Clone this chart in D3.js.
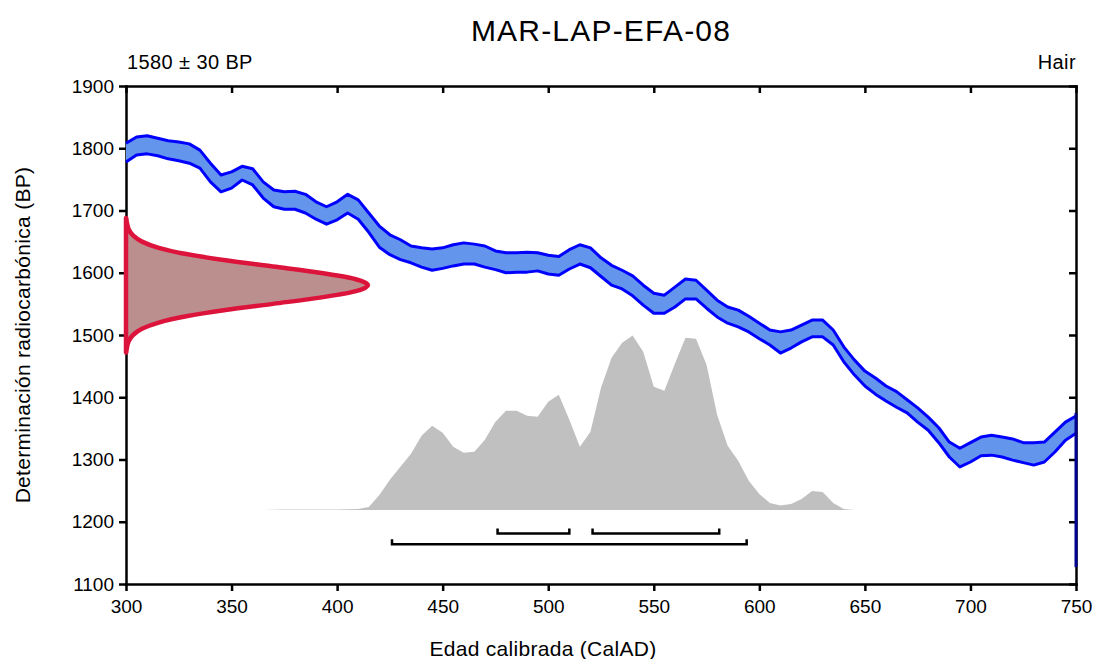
<!DOCTYPE html>
<html>
<head>
<meta charset="utf-8">
<script src="https://cdn.jsdelivr.net/npm/d3@7"></script>
<style>
  body { margin: 0; background: #fff; }
  svg text { font-family: "Liberation Sans", Arial, sans-serif; fill: #000; }
  .axis path, .axis line { stroke: #000; stroke-width: 2.5; }
  .axis text { font-size: 19px; }
</style>
</head>
<body>
<div id="chart"></div>
<script>
let w = 1095;
let h = 659;
let margin = { top: 86, right: 19, bottom: 75, left: 126 };

// calibration curve band (cal AD vs BP, upper / lower edge)
let calYears = [300, 305, 310, 315, 320, 325, 330, 335, 340, 345, 350, 355, 360, 365, 370, 375, 380, 385, 390, 395,
    400, 405, 410, 415, 420, 425, 430, 435, 440, 445, 450, 455, 460, 465, 470, 475, 480, 485, 490, 495,
    500, 505, 510, 515, 520, 525, 530, 535, 540, 545, 550, 555, 560, 565, 570, 575, 580, 585, 590, 595,
    600, 605, 610, 615, 620, 625, 630, 635, 640, 645, 650, 655, 660, 665, 670, 675, 680, 685, 690, 695,
    700, 705, 710, 715, 720, 725, 730, 735, 740, 745, 750];
let calUpper = [1808, 1818, 1820, 1816, 1812, 1810, 1807, 1797, 1776, 1757, 1762, 1771, 1767, 1746, 1733, 1730, 1731, 1726, 1714, 1706,
    1714, 1726, 1717, 1696, 1675, 1661, 1653, 1643, 1640, 1638, 1640, 1645, 1648, 1646, 1643, 1635, 1632, 1632, 1633, 1632,
    1628, 1626, 1637, 1645, 1640, 1624, 1612, 1604, 1595, 1580, 1567, 1564, 1577, 1590, 1588, 1572, 1556, 1545, 1540, 1530,
    1519, 1508, 1505, 1508, 1516, 1524, 1524, 1508, 1481, 1460, 1442, 1431, 1418, 1409, 1396, 1383, 1368, 1351, 1328, 1318,
    1327, 1336, 1339, 1336, 1333, 1327, 1327, 1328, 1344, 1360, 1370];
let calLower = [1778, 1789, 1791, 1788, 1783, 1780, 1776, 1768, 1746, 1730, 1736, 1749, 1741, 1720, 1706, 1702, 1702, 1696, 1686, 1678,
    1685, 1696, 1686, 1665, 1641, 1629, 1621, 1616, 1609, 1604, 1607, 1611, 1614, 1614, 1609, 1605, 1600, 1601, 1601, 1603,
    1598, 1596, 1606, 1614, 1608, 1594, 1580, 1574, 1563, 1548, 1535, 1535, 1545, 1558, 1558, 1543, 1529, 1519, 1513, 1505,
    1494, 1484, 1471, 1479, 1489, 1497, 1497, 1484, 1457, 1436, 1418, 1405, 1394, 1384, 1375, 1360, 1347, 1327, 1304, 1288,
    1296, 1306, 1307, 1304, 1299, 1295, 1291, 1296, 1312, 1331, 1342];

// measurement 1580 +/- 30 BP, relative density
let measBP = [1472, 1480, 1490, 1500, 1510, 1520, 1530, 1540, 1550, 1560, 1570, 1580,
    1590, 1600, 1610, 1620, 1630, 1640, 1650, 1660, 1670, 1680, 1688];
let measDens = [0.001, 0.004, 0.011, 0.029, 0.066, 0.135, 0.249, 0.411, 0.607, 0.801, 0.946, 1,
    0.946, 0.801, 0.607, 0.411, 0.249, 0.135, 0.066, 0.029, 0.011, 0.004, 0.001];

// calibrated probability
let postYears = [365, 370, 375, 380, 385, 390, 395, 400, 405, 410, 415, 420, 425, 430, 435, 440, 445, 450, 455,
    460, 465, 470, 475, 480, 485, 490, 495, 500, 505, 510, 515, 520, 525, 530, 535, 540, 545, 550, 555,
    560, 565, 570, 575, 580, 585, 590, 595, 600, 605, 610, 615, 620, 625, 630, 635, 640, 645, 650];
let postProb = [0, 0.2, 0.3, 0.4, 0.5, 0.5, 0.5, 0.5, 0.6, 0.8, 3, 15, 30, 43, 56, 74, 84, 77, 63,
    57, 58, 70, 88, 99, 99, 94, 93, 108, 115, 90, 63, 78, 122, 152, 167, 174, 158, 123, 119,
    146, 172, 171, 145, 95, 64, 49, 29, 16, 7, 4.5, 6, 11, 19, 18, 7, 1, 0, 0];

// probability ranges
let range68 = [[476, 510], [521, 581]];
let range95 = [[426, 594]];

let xTicks = [300, 350, 400, 450, 500, 550, 600, 650, 700, 750];
let yTicks = [1100, 1200, 1300, 1400, 1500, 1600, 1700, 1800, 1900];

let svg = d3.select("#chart")
    .append("svg")
    .attr("width", w)
    .attr("height", h);

let x = d3.scaleLinear()
    .domain([300, 750])
    .range([margin.left, w - margin.right]);

let y = d3.scaleLinear()
    .domain([1100, 1900])
    .range([h - margin.bottom, margin.top]);

// axes and frame
svg.append("g")
    .attr("class", "axis")
    .attr("transform", "translate(0," + (h - margin.bottom) + ")")
    .call(d3.axisBottom(x).tickValues(xTicks).tickFormat(d3.format("d"))
        .tickSize(7).tickPadding(9).tickSizeOuter(0));

svg.append("g")
    .attr("class", "axis")
    .attr("transform", "translate(" + margin.left + ",0)")
    .call(d3.axisLeft(y).tickValues(yTicks).tickFormat(d3.format("d"))
        .tickSize(7).tickPadding(5).tickSizeOuter(0));

svg.append("g")
    .attr("class", "axis")
    .attr("transform", "translate(0," + margin.top + ")")
    .call(d3.axisTop(x).tickValues(xTicks).tickSize(-7).tickFormat("").tickSizeOuter(0));

svg.append("g")
    .attr("class", "axis")
    .attr("transform", "translate(" + (w - margin.right) + ",0)")
    .call(d3.axisRight(y).tickValues(yTicks).tickSize(-7).tickFormat("").tickSizeOuter(0));

svg.selectAll(".axis .domain").attr("stroke-linecap", "square");

svg.append("clipPath")
    .attr("id", "plotclip")
    .append("rect")
    .attr("x", margin.left - 2)
    .attr("y", margin.top)
    .attr("width", w - margin.left - margin.right + 4)
    .attr("height", h - margin.top - margin.bottom);

let plot = svg.append("g").attr("clip-path", "url(#plotclip)");

// calibration band
let cal = calYears.map((d, i) => ({ yr: d, hi: calUpper[i], lo: calLower[i] }));

plot.append("path")
    .datum(cal)
    .attr("fill", "#6495ed")
    .attr("d", d3.area().x(d => x(d.yr)).y0(d => y(d.lo)).y1(d => y(d.hi)));

["hi", "lo"].forEach(k => {
    plot.append("path")
        .datum(cal)
        .attr("fill", "none")
        .attr("stroke", "#0000ff")
        .attr("stroke-width", 3)
        .attr("stroke-linejoin", "round")
        .attr("d", d3.line().x(d => x(d.yr)).y(d => y(d[k])));
});

plot.append("line")
    .attr("x1", x(750))
    .attr("x2", x(750))
    .attr("y1", y(1375))
    .attr("y2", y(1127))
    .attr("stroke", "#000090")
    .attr("stroke-width", 3);

// calibrated distribution
let postBase = 1219;
let postTop = 1499;
let py = d3.scaleLinear()
    .domain([0, d3.max(postProb)])
    .range([y(postBase), y(postTop)]);

plot.append("path")
    .datum(postYears.map((d, i) => ({ yr: d, p: postProb[i] })))
    .attr("fill", "#c0c0c0")
    .attr("d", d3.area().x(d => x(d.yr)).y0(y(postBase)).y1(d => py(d.p)));

// measurement gaussian
let dx = d3.scaleLinear()
    .domain([0, 1])
    .range([x(300), x(300) + 242]);

let meas = measBP.map((d, i) => ({ bp: d, p: measDens[i] }));

svg.append("path")
    .datum(meas)
    .attr("fill", "#bc8f8f")
    .attr("stroke", "#dc143c")
    .attr("stroke-width", 4.5)
    .attr("stroke-linejoin", "round")
    .attr("d", d3.area().curve(d3.curveMonotoneY)
        .y(d => y(d.bp)).x0(x(300)).x1(d => dx(d.p)));

// range brackets
let bracket = function (ranges, level) {
    ranges.forEach(r => {
        svg.append("path")
            .attr("fill", "none")
            .attr("stroke", "#000")
            .attr("stroke-width", 2.5)
            .attr("d", "M" + x(r[0]) + "," + (y(level) - 5) + "V" + y(level)
                + "H" + x(r[1]) + "V" + (y(level) - 5));
    });
};
bracket(range68, 1181);
bracket(range95, 1164);

// texts
svg.append("text")
    .attr("x", x(525))
    .attr("y", 41)
    .attr("text-anchor", "middle")
    .style("font-size", "30px")
    .style("letter-spacing", "1.2px")
    .text("MAR-LAP-EFA-08");

svg.append("text")
    .attr("x", margin.left + 1)
    .attr("y", 69)
    .style("font-size", "20px")
    .style("letter-spacing", "0.4px")
    .text("1580 ± 30 BP");

svg.append("text")
    .attr("x", w - margin.right)
    .attr("y", 69)
    .attr("text-anchor", "end")
    .style("font-size", "20px")
    .style("letter-spacing", "0.4px")
    .text("Hair");

svg.append("text")
    .attr("x", 543)
    .attr("y", 656)
    .attr("text-anchor", "middle")
    .style("font-size", "21px")
    .style("letter-spacing", "0.3px")
    .text("Edad calibrada (CalAD)");

svg.append("text")
    .attr("transform", "translate(30," + y(1500) + ") rotate(-90)")
    .attr("text-anchor", "middle")
    .style("font-size", "21px")
    .style("letter-spacing", "0.3px")
    .text("Determinación radiocarbónica (BP)");
</script>
</body>
</html>
